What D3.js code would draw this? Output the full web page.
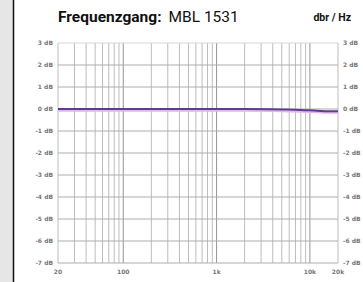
<!DOCTYPE html>
<html>
<head>
<meta charset="utf-8">
<script src="https://cdn.jsdelivr.net/npm/d3@7"></script>
<style>
  body { margin: 0; background: #fff; }
  svg { display: block; }
</style>
</head>
<body>
<div id="viz"></div>
<script>
// values
const freqs = [20, 30, 50, 100, 200, 500, 1000, 2000, 5000, 8000, 12000, 16000, 20000];
const chanA = [0, 0, 0, 0, 0, 0, 0, 0, -0.02, -0.04, -0.08, -0.1, -0.1];
const chanB = [-0.08, -0.08, -0.08, -0.08, -0.08, -0.08, -0.08, -0.08, -0.1, -0.12, -0.15, -0.17, -0.17];
const dbTicks = [3, 2, 1, 0, -1, -2, -3, -4, -5, -6, -7];
const freqTicks = [20, 100, 1000, 10000, 20000];
const freqLabels = ["20", "100", "1k", "10k", "20k"];

const W = 363, H = 282;
const svg = d3.select("#viz").append("svg").attr("width", W).attr("height", H);

// left grey band + rule
svg.append("rect").attr("x", 0).attr("y", 0).attr("width", 13).attr("height", H).attr("fill", "#e6e6e6");
svg.append("line").attr("x1", 13.5).attr("x2", 13.5).attr("y1", 0).attr("y2", H)
  .attr("stroke", "#111").attr("stroke-width", 1.5);

const x = d3.scaleLog().domain([20, 20000]).range([58, 338]);
const y = d3.scaleLinear().domain([-7, 3]).range([263, 43]);

// vertical log grid
const gridF = [];
[10, 100, 1000, 10000].forEach(dec => {
  for (let k = 1; k <= 9; k++) {
    const f = dec * k;
    if (f >= 20 && f <= 20000) gridF.push(f);
  }
});
svg.append("g").selectAll("line").data(gridF).join("line")
  .attr("x1", d => x(d)).attr("x2", d => x(d))
  .attr("y1", y(3)).attr("y2", y(-7))
  .attr("stroke", d => [100, 1000, 10000].includes(d) ? "#959595" : "#bdbdbd")
  .attr("stroke-width", 1);

// horizontal grid
svg.append("g").selectAll("line").data(dbTicks).join("line")
  .attr("x1", x(20)).attr("x2", x(20000))
  .attr("y1", d => y(d)).attr("y2", d => y(d))
  .attr("stroke", d => d === 3 ? "#d6d6d6" : "#adadad")
  .attr("stroke-width", 1);

// dB labels, both sides
const dbLabel = d => d === 0 ? "0 dB" : d + " dB";
svg.append("g").selectAll("text").data(dbTicks).join("text")
  .attr("x", 53).attr("y", d => y(d) + 2)
  .attr("text-anchor", "end")
  .attr("font-family", "DejaVu Sans, sans-serif").attr("font-size", 6).attr("font-weight", 700)
  .attr("fill", "#777").text(dbLabel);
svg.append("g").selectAll("text").data(dbTicks).join("text")
  .attr("x", 343).attr("y", d => y(d) + 2)
  .attr("text-anchor", "start")
  .attr("font-family", "DejaVu Sans, sans-serif").attr("font-size", 6).attr("font-weight", 700)
  .attr("fill", "#777").text(dbLabel);

// frequency labels
svg.append("g").selectAll("text").data(freqTicks).join("text")
  .attr("x", d => x(d)).attr("y", 274)
  .attr("text-anchor", "middle")
  .attr("font-family", "DejaVu Sans, sans-serif").attr("font-size", 6).attr("font-weight", 700)
  .attr("fill", "#777").text((d, i) => freqLabels[i]);

// curves
const line = vals => d3.line()
  .x((d, i) => x(freqs[i]))
  .y(d => y(d))
  .curve(d3.curveMonotoneX)(vals);
svg.append("path").attr("d", line(chanB)).attr("fill", "none")
  .attr("stroke", "#e6b4ec").attr("stroke-width", 2);
svg.append("path").attr("d", line(chanA)).attr("fill", "none")
  .attr("stroke", "#5b3f8e").attr("stroke-width", 2);

// title
const title = svg.append("text").attr("x", 58).attr("y", 22)
  .attr("font-family", "Roboto, sans-serif").attr("font-size", 15.5).attr("fill", "#111");
title.append("tspan").attr("font-weight", 700).text("Frequenzgang:");
title.append("tspan").attr("dx", 7).attr("font-weight", 400).text("MBL 1531");
svg.append("text").attr("x", 351).attr("y", 21).attr("text-anchor", "end")
  .attr("font-family", "Roboto, sans-serif").attr("font-size", 10.5).attr("font-weight", 700)
  .attr("fill", "#111").text("dbr / Hz");
</script>
</body>
</html>
